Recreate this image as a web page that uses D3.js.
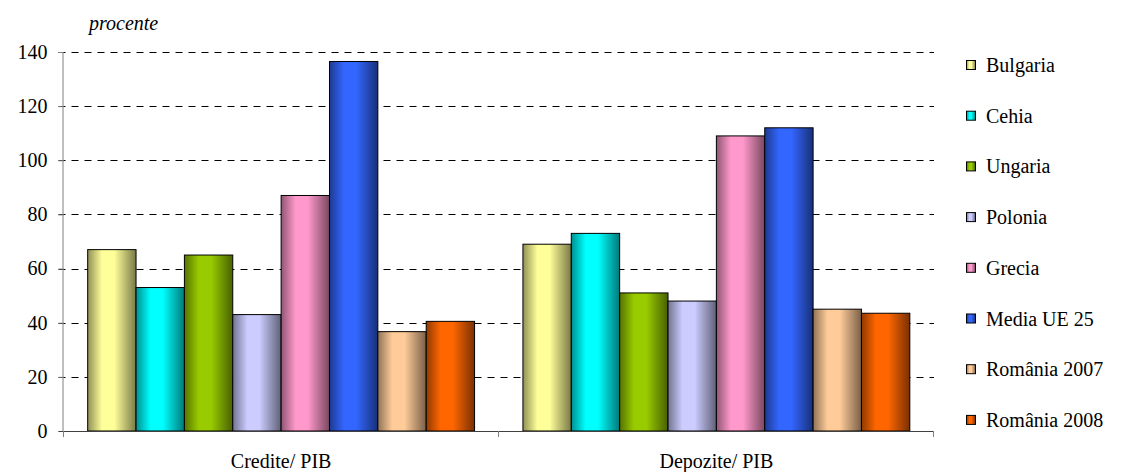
<!DOCTYPE html>
<html>
<head>
<meta charset="utf-8">
<script src="https://cdn.jsdelivr.net/npm/d3@7"></script>
</head>
<body style="margin:0">
<svg id="chart" width="1121" height="472"></svg>
<script>
// Indicator groups on the x axis
const categories = ["Credite/ PIB", "Depozite/ PIB"];
// Countries / series
const seriesNames = ["Bulgaria", "Cehia", "Ungaria", "Polonia", "Grecia", "Media UE 25", "România 2007", "România 2008"];
// Values in percent of GDP, one array per indicator
const crediteValues  = [67, 53, 65, 43, 87, 136.5, 36.7, 40.5];
const depoziteValues = [69, 73, 51, 48, 109, 112, 45, 43.5];
const seriesColors = ["#FFFF99", "#00FFFF", "#99CC00", "#CCCCFF", "#FF99CC", "#3366FF", "#FFCC99", "#FF6600"];
const yTicks = [0, 20, 40, 60, 80, 100, 120, 140];
const yLabel = "procente";

const valuesByCategory = [crediteValues, depoziteValues];
const FONT = "'Liberation Serif'";

const svg = d3.select("#chart").style("font-family", FONT);
const plot = { left: 63.5, right: 934, top: 52, bottom: 431 };

const x0 = d3.scaleBand().domain(categories).range([plot.left, plot.right]).padding(0);
const bw = x0.bandwidth();
const x1 = d3.scaleBand().domain(seriesNames).range([bw / 18, bw - bw / 18]).padding(0);
const y = d3.scaleLinear().domain([0, 140]).range([plot.bottom, plot.top]);

// Horizontal shading: dark edges, bright middle
const defs = svg.append("defs");
seriesColors.forEach((c, i) => {
  const base = d3.rgb(c);
  const g = defs.append("linearGradient").attr("id", "grad" + i)
    .attr("x1", "0%").attr("x2", "100%").attr("y1", "0%").attr("y2", "0%");
  g.append("stop").attr("offset", "0%").attr("stop-color", base.darker(1.6));
  g.append("stop").attr("offset", "30%").attr("stop-color", base);
  g.append("stop").attr("offset", "55%").attr("stop-color", base);
  g.append("stop").attr("offset", "100%").attr("stop-color", base.darker(2.1));
});

// Dashed gridlines (including the small tick stub left of the axis)
svg.append("g").selectAll("line")
  .data(yTicks.filter(t => t > 0))
  .join("line")
  .attr("x1", plot.left - 5).attr("x2", plot.right)
  .attr("y1", d => Math.round(y(d)) + 0.5).attr("y2", d => Math.round(y(d)) + 0.5)
  .attr("stroke", "#000").attr("stroke-width", 1)
  .attr("stroke-dasharray", "7,6");

// Y axis
const yAxis = d3.axisLeft(y).tickValues(yTicks).tickSize(5).tickPadding(11);
const gy = svg.append("g").attr("transform", `translate(${plot.left},0)`).call(yAxis);
gy.attr("font-family", null).attr("font-size", null);
gy.select(".domain").attr("stroke", "#808080").attr("d", `M-0.5,${y(0)}V${y(140)}`);
gy.selectAll(".tick line").attr("stroke", "#808080");
gy.selectAll(".tick text").attr("fill", "#000")
  .style("font-family", FONT).attr("font-size", 20);

// Bars
const groups = svg.append("g").selectAll("g")
  .data(categories)
  .join("g")
  .attr("transform", d => `translate(${x0(d)},0)`);

groups.selectAll("rect")
  .data((d, ci) => valuesByCategory[ci].map((v, si) => ({ name: seriesNames[si], value: v, idx: si })))
  .join("rect")
  .attr("x", d => x1(d.name))
  .attr("y", d => y(d.value))
  .attr("width", x1.bandwidth())
  .attr("height", d => y(0) - y(d.value))
  .attr("fill", d => `url(#grad${d.idx})`)
  .attr("stroke", "#000").attr("stroke-width", 1);

// X axis line with category boundary ticks
const gx = svg.append("g");
gx.append("line").attr("x1", plot.left - 5).attr("x2", plot.right)
  .attr("y1", plot.bottom + 0.5).attr("y2", plot.bottom + 0.5)
  .attr("stroke", "#404040").attr("stroke-width", 1);
gx.selectAll("line.sep")
  .data([plot.left, x0(categories[1]), plot.right])
  .join("line").attr("class", "sep")
  .attr("x1", d => Math.round(d) - 0.5).attr("x2", d => Math.round(d) - 0.5)
  .attr("y1", plot.bottom).attr("y2", plot.bottom + 6)
  .attr("stroke", "#808080");
gx.selectAll("text")
  .data(categories)
  .join("text")
  .attr("x", d => x0(d) + bw / 2)
  .attr("y", 468)
  .attr("text-anchor", "middle")
  .style("font-family", FONT).attr("font-size", 20)
  .text(d => d);

// Unit label
svg.append("text").attr("x", 89).attr("y", 30)
  .style("font-family", FONT).attr("font-size", 20).style("font-style", "italic")
  .text(yLabel);

// Legend
const legend = svg.append("g").selectAll("g")
  .data(seriesNames)
  .join("g")
  .attr("transform", (d, i) => `translate(966, ${65 + i * 50.7})`);
legend.append("rect")
  .attr("x", 0.5).attr("y", -4.5).attr("width", 9).attr("height", 9)
  .attr("fill", (d, i) => `url(#grad${i})`)
  .attr("stroke", "#000").attr("stroke-width", 1);
legend.append("text")
  .attr("x", 20).attr("y", 7)
  .style("font-family", FONT).attr("font-size", 20)
  .text(d => d);
</script>
</body>
</html>
